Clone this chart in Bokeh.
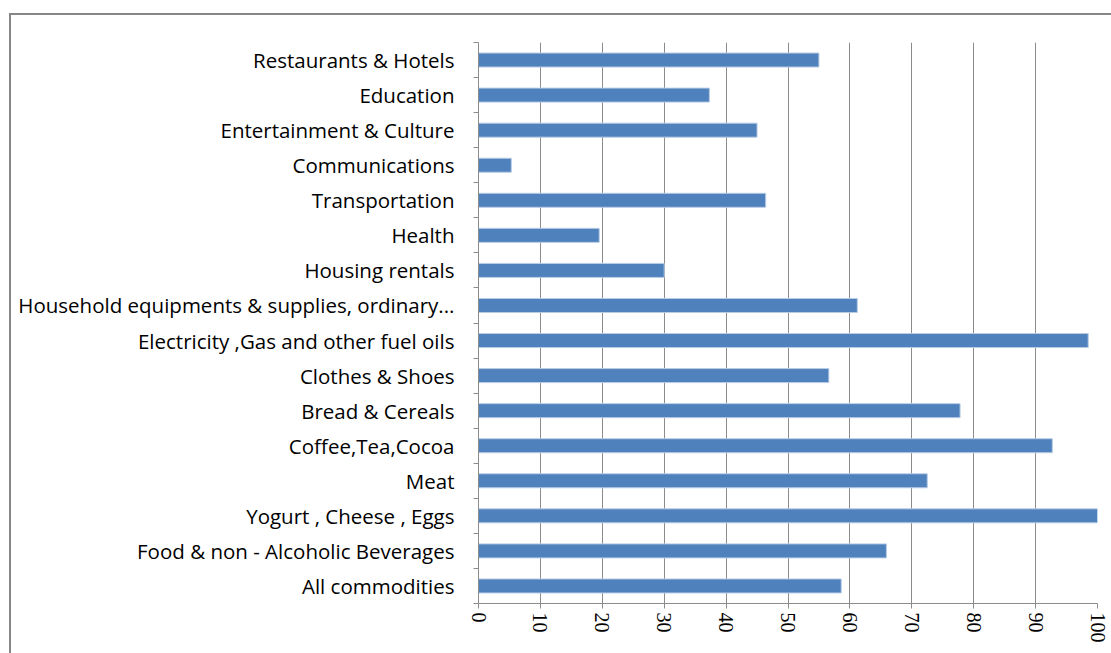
from bokeh.plotting import figure
from bokeh.models import Range1d, FixedTicker, ColumnDataSource
from bokeh.embed import file_html
from bokeh.resources import INLINE

# Categories listed top to bottom as in the chart
categories = [
    "Restaurants & Hotels",
    "Education",
    "Entertainment & Culture",
    "Communications",
    "Transportation",
    "Health",
    "Housing rentals",
    "Household equipments & supplies, ordinary...",
    "Electricity ,Gas and other fuel oils",
    "Clothes & Shoes",
    "Bread & Cereals",
    "Coffee,Tea,Cocoa",
    "Meat",
    "Yogurt , Cheese , Eggs",
    "Food & non - Alcoholic Beverages",
    "All commodities",
]
values = [55.0, 37.3, 45.0, 5.3, 46.4, 19.5, 30.0, 61.2, 98.5, 56.6,
          77.8, 92.7, 72.5, 100.0, 65.9, 58.6]
x_ticks = [0, 10, 20, 30, 40, 50, 60, 70, 80, 90, 100]

n = len(categories)
positions = [n - 1 - i for i in range(n)]  # top category highest
source = ColumnDataSource(data=dict(y=positions, v=values, name=categories))

GRAY = "#8c8c8c"

p = figure(
    frame_width=619, frame_height=561,
    min_border_left=467, min_border_top=27, min_border_right=14, min_border_bottom=50,
    x_range=Range1d(0, 100), y_range=Range1d(-0.5, n - 0.5),
    output_backend="svg", toolbar_location=None,
)
p.margin = (13, 0, 0, 9)
p.styles = {"border-left": "2px solid #868686", "border-top": "2px solid #868686"}
p.outline_line_color = None
p.background_fill_color = "white"
p.border_fill_color = "white"

p.hbar(y="y", right="v", left=0, height=0.4, source=source,
       fill_color="#4F81BD", line_color="#B9CDE5", line_width=1)

# x axis
p.xaxis.ticker = FixedTicker(ticks=x_ticks)
p.xaxis.major_label_orientation = "vertical"
p.xaxis.major_label_text_font = "Liberation Serif"
p.xaxis.major_label_text_font_size = "20px"
p.xaxis.major_label_text_color = "black"
p.xaxis.axis_line_color = GRAY
p.xaxis.major_tick_line_color = GRAY
p.xaxis.major_tick_out = 5
p.xaxis.major_tick_in = 0
p.xaxis.minor_tick_line_color = None
p.xaxis.major_label_standoff = 4

# y axis: labels at centers, ticks at boundaries
p.yaxis.ticker = FixedTicker(ticks=positions,
                             minor_ticks=[k - 0.5 for k in range(n + 1)])
p.yaxis.major_label_overrides = {pos: name for pos, name in zip(positions, categories)}
p.yaxis.major_label_text_font = "Open Sans"
p.yaxis.major_label_text_font_size = "20.5px"
p.yaxis.major_label_text_color = "black"
p.yaxis.axis_line_color = GRAY
p.yaxis.major_tick_line_color = None
p.yaxis.major_tick_out = 0
p.yaxis.major_tick_in = 0
p.yaxis.minor_tick_line_color = GRAY
p.yaxis.minor_tick_out = 5
p.yaxis.minor_tick_in = 0
p.yaxis.major_label_standoff = 19

p.xgrid.grid_line_color = GRAY
p.xgrid.grid_line_width = 1
p.ygrid.grid_line_color = None

open("out.html", "w").write(file_html(p, INLINE))
